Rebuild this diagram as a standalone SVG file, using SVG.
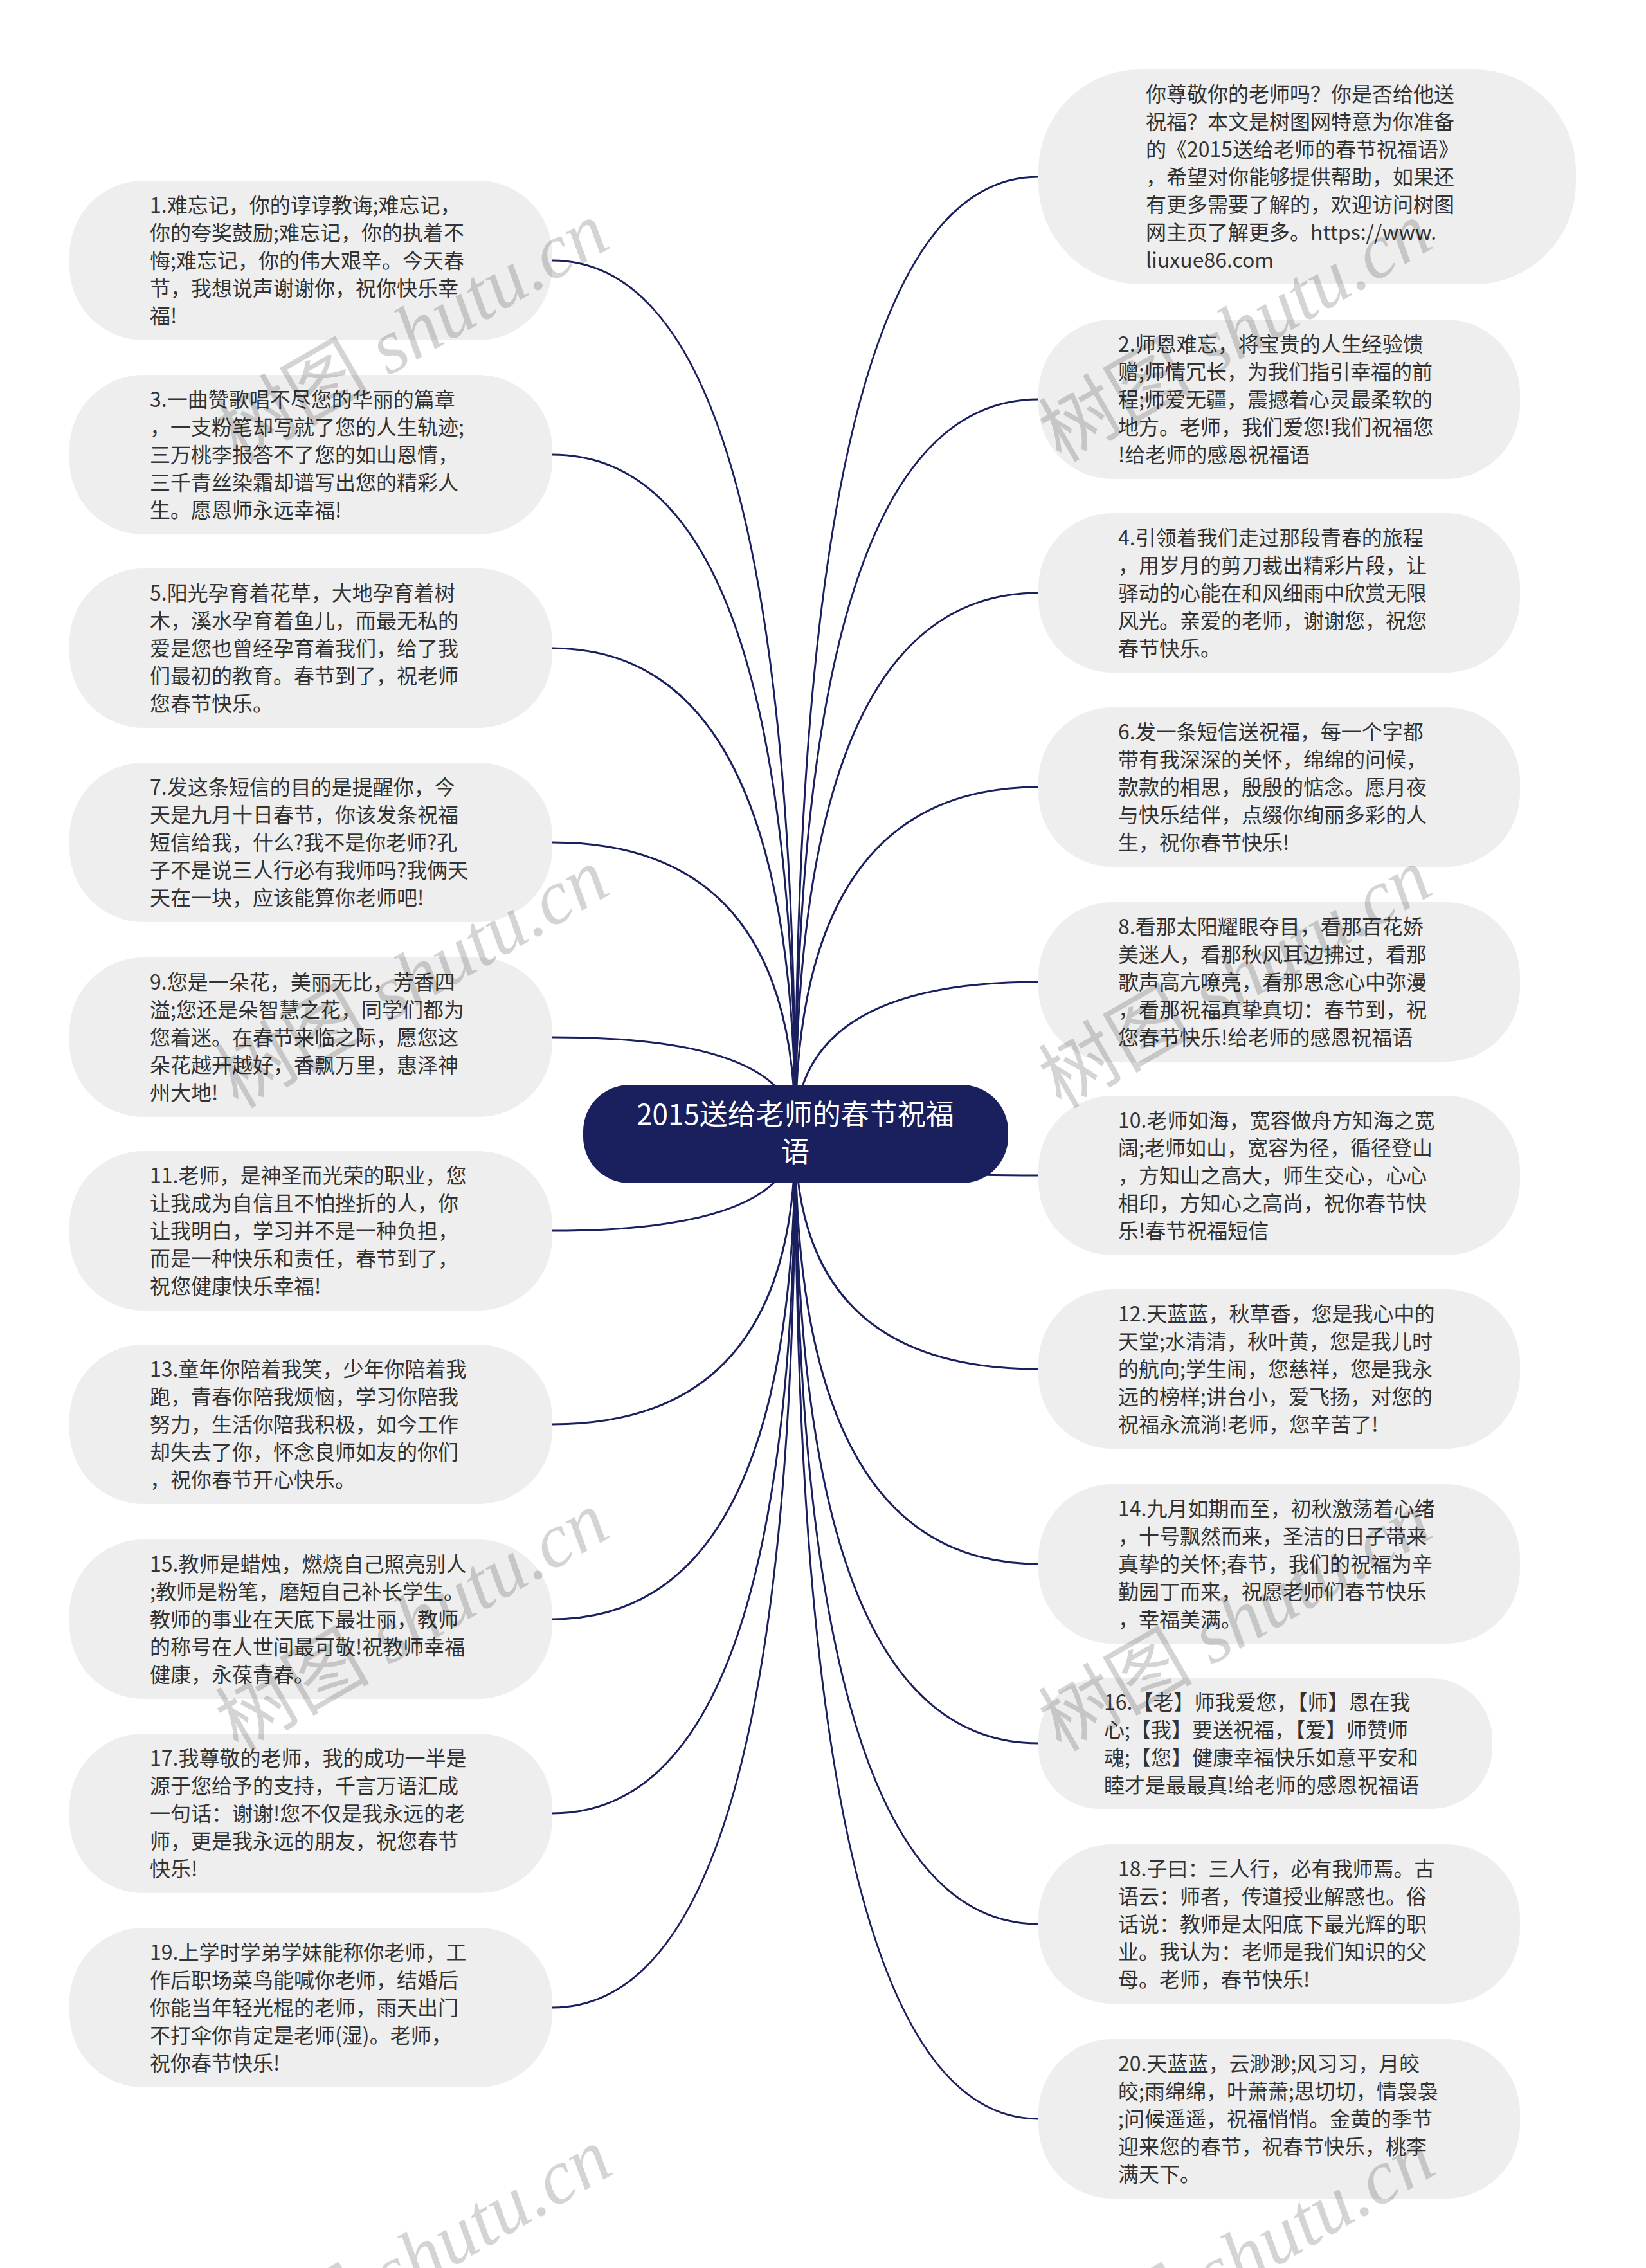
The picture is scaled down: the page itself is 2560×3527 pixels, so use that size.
<svg xmlns="http://www.w3.org/2000/svg" width="2560" height="3527" viewBox="0 0 2560 3527">
<style>
.bg{fill:#ffffff}
.node{fill:#eeeeee}
.root{fill:#1a1f5e}
.t{font-family:"Noto Sans CJK SC","Noto Sans",sans-serif;font-size:32px;fill:#333333}
.rt{font-family:"Noto Sans CJK SC","Noto Sans",sans-serif;font-size:44px;fill:#ffffff;text-anchor:middle}
.conn path{fill:none;stroke:#1a1f5e;stroke-width:3}
.wm{font-family:"Liberation Serif","Noto Sans CJK SC",serif;font-size:120px;fill:#000000;fill-opacity:0.17}
.wm .i{font-style:italic}
</style>
<rect class="bg" x="0" y="0" width="2560" height="3527"/>
<g id="connectors" class="conn">
<path d="M1237,1763 Q1237,405 859,405"/>
<path d="M1237,1763 Q1237,707 859,707"/>
<path d="M1237,1763 Q1237,1008 859,1008"/>
<path d="M1237,1763 Q1237,1310 859,1310"/>
<path d="M1237,1763 Q1237,1613 859,1613"/>
<path d="M1237,1763 Q1237,1914 859,1914"/>
<path d="M1237,1763 Q1237,2215 859,2215"/>
<path d="M1237,1763 Q1237,2518 859,2518"/>
<path d="M1237,1763 Q1237,2820 859,2820"/>
<path d="M1237,1763 Q1237,3122 859,3122"/>
<path d="M1237,1763 Q1237,275 1615,275"/>
<path d="M1237,1763 Q1237,621 1615,621"/>
<path d="M1237,1763 Q1237,922 1615,922"/>
<path d="M1237,1763 Q1237,1224 1615,1224"/>
<path d="M1237,1763 Q1237,1527 1615,1527"/>
<path d="M1237,1763 Q1237,1828 1615,1828"/>
<path d="M1237,1763 Q1237,2129 1615,2129"/>
<path d="M1237,1763 Q1237,2432 1615,2432"/>
<path d="M1237,1763 Q1237,2711 1615,2711"/>
<path d="M1237,1763 Q1237,2992 1615,2992"/>
<path d="M1237,1763 Q1237,3295 1615,3295"/>
</g>
<g id="root">
<rect class="root" x="907" y="1687" width="661" height="153" rx="72"/>
<text class="rt" x="1237" y="1749">2015送给老师的春节祝福</text>
<text class="rt" x="1237" y="1807">语</text>
</g>
<g id="intro">
<rect class="node" x="1615" y="108" width="836" height="334" rx="158"/>
<text class="t"><tspan x="1782" y="158">你尊敬你的老师吗？你是否给他送</tspan><tspan x="1782" y="201">祝福？本文是树图网特意为你准备</tspan><tspan x="1782" y="244">的《2015送给老师的春节祝福语》</tspan><tspan x="1782" y="287">，希望对你能够提供帮助，如果还</tspan><tspan x="1782" y="330">有更多需要了解的，欢迎访问树图</tspan><tspan x="1782" y="373">网主页了解更多。https://www.</tspan><tspan x="1782" y="416">liuxue86.com</tspan></text>
</g>
<g id="n1">
<rect class="node" x="108" y="281" width="751" height="248" rx="115"/>
<text class="t"><tspan x="233" y="331">1.难忘记，你的谆谆教诲;难忘记，</tspan><tspan x="233" y="374">你的夸奖鼓励;难忘记，你的执着不</tspan><tspan x="233" y="417">悔;难忘记，你的伟大艰辛。今天春</tspan><tspan x="233" y="460">节，我想说声谢谢你，祝你快乐幸</tspan><tspan x="233" y="503">福!</tspan></text>
</g>
<g id="n2">
<rect class="node" x="1615" y="497" width="749" height="248" rx="115"/>
<text class="t"><tspan x="1739" y="547">2.师恩难忘，将宝贵的人生经验馈</tspan><tspan x="1739" y="590">赠;师情冗长，为我们指引幸福的前</tspan><tspan x="1739" y="633">程;师爱无疆，震撼着心灵最柔软的</tspan><tspan x="1739" y="676">地方。老师，我们爱您!我们祝福您</tspan><tspan x="1739" y="719">!给老师的感恩祝福语</tspan></text>
</g>
<g id="n3">
<rect class="node" x="108" y="583" width="751" height="248" rx="115"/>
<text class="t"><tspan x="233" y="633">3.一曲赞歌唱不尽您的华丽的篇章</tspan><tspan x="233" y="676">，一支粉笔却写就了您的人生轨迹;</tspan><tspan x="233" y="719">三万桃李报答不了您的如山恩情，</tspan><tspan x="233" y="762">三千青丝染霜却谱写出您的精彩人</tspan><tspan x="233" y="805">生。愿恩师永远幸福!</tspan></text>
</g>
<g id="n4">
<rect class="node" x="1615" y="798" width="749" height="248" rx="115"/>
<text class="t"><tspan x="1739" y="848">4.引领着我们走过那段青春的旅程</tspan><tspan x="1739" y="891">，用岁月的剪刀裁出精彩片段，让</tspan><tspan x="1739" y="934">驿动的心能在和风细雨中欣赏无限</tspan><tspan x="1739" y="977">风光。亲爱的老师，谢谢您，祝您</tspan><tspan x="1739" y="1020">春节快乐。</tspan></text>
</g>
<g id="n5">
<rect class="node" x="108" y="884" width="751" height="248" rx="115"/>
<text class="t"><tspan x="233" y="934">5.阳光孕育着花草，大地孕育着树</tspan><tspan x="233" y="977">木，溪水孕育着鱼儿，而最无私的</tspan><tspan x="233" y="1020">爱是您也曾经孕育着我们，给了我</tspan><tspan x="233" y="1063">们最初的教育。春节到了，祝老师</tspan><tspan x="233" y="1106">您春节快乐。</tspan></text>
</g>
<g id="n6">
<rect class="node" x="1615" y="1100" width="749" height="248" rx="115"/>
<text class="t"><tspan x="1739" y="1150">6.发一条短信送祝福，每一个字都</tspan><tspan x="1739" y="1193">带有我深深的关怀，绵绵的问候，</tspan><tspan x="1739" y="1236">款款的相思，殷殷的惦念。愿月夜</tspan><tspan x="1739" y="1279">与快乐结伴，点缀你绚丽多彩的人</tspan><tspan x="1739" y="1322">生，祝你春节快乐!</tspan></text>
</g>
<g id="n7">
<rect class="node" x="108" y="1186" width="751" height="248" rx="115"/>
<text class="t"><tspan x="233" y="1236">7.发这条短信的目的是提醒你，今</tspan><tspan x="233" y="1279">天是九月十日春节，你该发条祝福</tspan><tspan x="233" y="1322">短信给我，什么?我不是你老师?孔</tspan><tspan x="233" y="1365">子不是说三人行必有我师吗?我俩天</tspan><tspan x="233" y="1408">天在一块，应该能算你老师吧!</tspan></text>
</g>
<g id="n8">
<rect class="node" x="1615" y="1403" width="749" height="248" rx="115"/>
<text class="t"><tspan x="1739" y="1453">8.看那太阳耀眼夺目，看那百花娇</tspan><tspan x="1739" y="1496">美迷人，看那秋风耳边拂过，看那</tspan><tspan x="1739" y="1539">歌声高亢嘹亮，看那思念心中弥漫</tspan><tspan x="1739" y="1582">，看那祝福真挚真切：春节到，祝</tspan><tspan x="1739" y="1625">您春节快乐!给老师的感恩祝福语</tspan></text>
</g>
<g id="n9">
<rect class="node" x="108" y="1489" width="751" height="248" rx="115"/>
<text class="t"><tspan x="233" y="1539">9.您是一朵花，美丽无比，芳香四</tspan><tspan x="233" y="1582">溢;您还是朵智慧之花，同学们都为</tspan><tspan x="233" y="1625">您着迷。在春节来临之际，愿您这</tspan><tspan x="233" y="1668">朵花越开越好，香飘万里，惠泽神</tspan><tspan x="233" y="1711">州大地!</tspan></text>
</g>
<g id="n10">
<rect class="node" x="1615" y="1704" width="749" height="248" rx="115"/>
<text class="t"><tspan x="1739" y="1754">10.老师如海，宽容做舟方知海之宽</tspan><tspan x="1739" y="1797">阔;老师如山，宽容为径，循径登山</tspan><tspan x="1739" y="1840">，方知山之高大，师生交心，心心</tspan><tspan x="1739" y="1883">相印，方知心之高尚，祝你春节快</tspan><tspan x="1739" y="1926">乐!春节祝福短信</tspan></text>
</g>
<g id="n11">
<rect class="node" x="108" y="1790" width="751" height="248" rx="115"/>
<text class="t"><tspan x="233" y="1840">11.老师，是神圣而光荣的职业，您</tspan><tspan x="233" y="1883">让我成为自信且不怕挫折的人，你</tspan><tspan x="233" y="1926">让我明白，学习并不是一种负担，</tspan><tspan x="233" y="1969">而是一种快乐和责任，春节到了，</tspan><tspan x="233" y="2012">祝您健康快乐幸福!</tspan></text>
</g>
<g id="n12">
<rect class="node" x="1615" y="2005" width="749" height="248" rx="115"/>
<text class="t"><tspan x="1739" y="2055">12.天蓝蓝，秋草香，您是我心中的</tspan><tspan x="1739" y="2098">天堂;水清清，秋叶黄，您是我儿时</tspan><tspan x="1739" y="2141">的航向;学生闹，您慈祥，您是我永</tspan><tspan x="1739" y="2184">远的榜样;讲台小，爱飞扬，对您的</tspan><tspan x="1739" y="2227">祝福永流淌!老师，您辛苦了!</tspan></text>
</g>
<g id="n13">
<rect class="node" x="108" y="2091" width="751" height="248" rx="115"/>
<text class="t"><tspan x="233" y="2141">13.童年你陪着我笑，少年你陪着我</tspan><tspan x="233" y="2184">跑，青春你陪我烦恼，学习你陪我</tspan><tspan x="233" y="2227">努力，生活你陪我积极，如今工作</tspan><tspan x="233" y="2270">却失去了你，怀念良师如友的你们</tspan><tspan x="233" y="2313">，祝你春节开心快乐。</tspan></text>
</g>
<g id="n14">
<rect class="node" x="1615" y="2308" width="749" height="248" rx="115"/>
<text class="t"><tspan x="1739" y="2358">14.九月如期而至，初秋激荡着心绪</tspan><tspan x="1739" y="2401">，十号飘然而来，圣洁的日子带来</tspan><tspan x="1739" y="2444">真挚的关怀;春节，我们的祝福为辛</tspan><tspan x="1739" y="2487">勤园丁而来，祝愿老师们春节快乐</tspan><tspan x="1739" y="2530">，幸福美满。</tspan></text>
</g>
<g id="n15">
<rect class="node" x="108" y="2394" width="751" height="248" rx="115"/>
<text class="t"><tspan x="233" y="2444">15.教师是蜡烛，燃烧自己照亮别人</tspan><tspan x="233" y="2487">;教师是粉笔，磨短自己补长学生。</tspan><tspan x="233" y="2530">教师的事业在天底下最壮丽，教师</tspan><tspan x="233" y="2573">的称号在人世间最可敬!祝教师幸福</tspan><tspan x="233" y="2616">健康，永葆青春。</tspan></text>
</g>
<g id="n16">
<rect class="node" x="1615" y="2610" width="706" height="203" rx="95"/>
<text class="t"><tspan x="1717" y="2659">16.【老】师我爱您，【师】恩在我</tspan><tspan x="1717" y="2702">心;【我】要送祝福，【爱】师赞师</tspan><tspan x="1717" y="2745">魂;【您】健康幸福快乐如意平安和</tspan><tspan x="1717" y="2788">睦才是最最真!给老师的感恩祝福语</tspan></text>
</g>
<g id="n17">
<rect class="node" x="108" y="2696" width="751" height="248" rx="115"/>
<text class="t"><tspan x="233" y="2746">17.我尊敬的老师，我的成功一半是</tspan><tspan x="233" y="2789">源于您给予的支持，千言万语汇成</tspan><tspan x="233" y="2832">一句话：谢谢!您不仅是我永远的老</tspan><tspan x="233" y="2875">师，更是我永远的朋友，祝您春节</tspan><tspan x="233" y="2918">快乐!</tspan></text>
</g>
<g id="n18">
<rect class="node" x="1615" y="2868" width="749" height="248" rx="115"/>
<text class="t"><tspan x="1739" y="2918">18.子曰：三人行，必有我师焉。古</tspan><tspan x="1739" y="2961">语云：师者，传道授业解惑也。俗</tspan><tspan x="1739" y="3004">话说：教师是太阳底下最光辉的职</tspan><tspan x="1739" y="3047">业。我认为：老师是我们知识的父</tspan><tspan x="1739" y="3090">母。老师，春节快乐!</tspan></text>
</g>
<g id="n19">
<rect class="node" x="108" y="2998" width="751" height="248" rx="115"/>
<text class="t"><tspan x="233" y="3048">19.上学时学弟学妹能称你老师，工</tspan><tspan x="233" y="3091">作后职场菜鸟能喊你老师，结婚后</tspan><tspan x="233" y="3134">你能当年轻光棍的老师，雨天出门</tspan><tspan x="233" y="3177">不打伞你肯定是老师(湿)。老师，</tspan><tspan x="233" y="3220">祝你春节快乐!</tspan></text>
</g>
<g id="n20">
<rect class="node" x="1615" y="3171" width="749" height="248" rx="115"/>
<text class="t"><tspan x="1739" y="3221">20.天蓝蓝，云渺渺;风习习，月皎</tspan><tspan x="1739" y="3264">皎;雨绵绵，叶萧萧;思切切，情袅袅</tspan><tspan x="1739" y="3307">;问候遥遥，祝福悄悄。金黄的季节</tspan><tspan x="1739" y="3350">迎来您的春节，祝春节快乐，桃李</tspan><tspan x="1739" y="3393">满天下。</tspan></text>
</g>
<g id="watermarks" class="wm">
<text x="370" y="720" transform="rotate(-30 370 720)">树图 <tspan class="i">shutu.cn</tspan></text>
<text x="1650" y="720" transform="rotate(-30 1650 720)">树图 <tspan class="i">shutu.cn</tspan></text>
<text x="370" y="1725" transform="rotate(-30 370 1725)">树图 <tspan class="i">shutu.cn</tspan></text>
<text x="1650" y="1725" transform="rotate(-30 1650 1725)">树图 <tspan class="i">shutu.cn</tspan></text>
<text x="370" y="2725" transform="rotate(-30 370 2725)">树图 <tspan class="i">shutu.cn</tspan></text>
<text x="1650" y="2725" transform="rotate(-30 1650 2725)">树图 <tspan class="i">shutu.cn</tspan></text>
<text x="375" y="3715" transform="rotate(-30 375 3715)">树图 <tspan class="i">shutu.cn</tspan></text>
<text x="1655" y="3715" transform="rotate(-30 1655 3715)">树图 <tspan class="i">shutu.cn</tspan></text>
</g>
</svg>
